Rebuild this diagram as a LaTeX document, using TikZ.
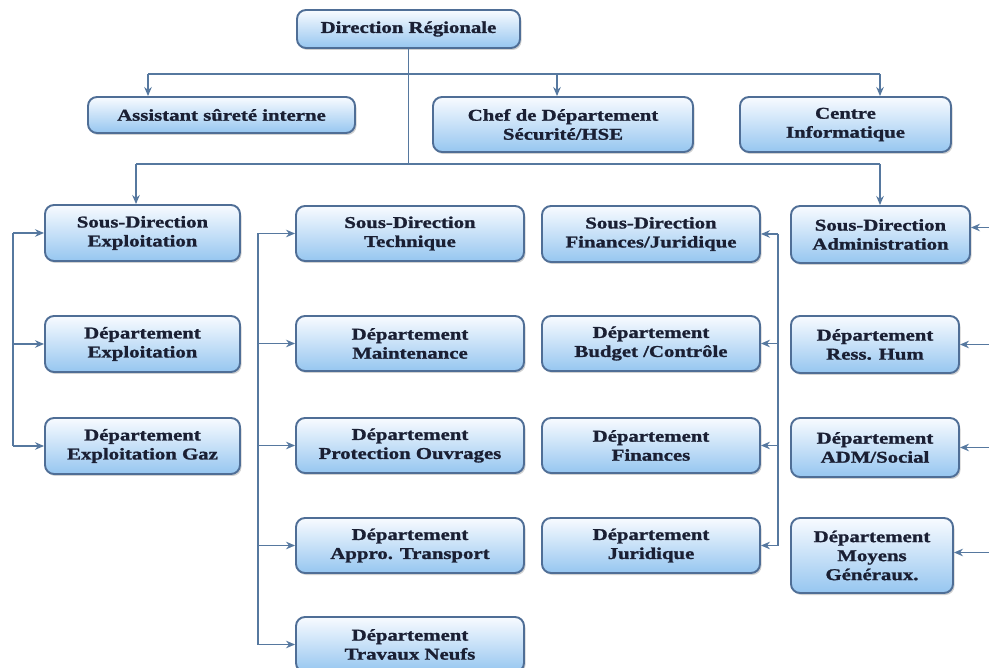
\documentclass[tikz,border=0pt]{standalone}
\usepackage{fontspec}
\setmainfont{Liberation Serif}[FakeStretch=1.26, BoldFeatures={FakeBold=1.3}]
\usetikzlibrary{arrows.meta,shadows}

\definecolor{boxedge}{HTML}{4F6E96}
\definecolor{linkcol}{HTML}{56789F}
\definecolor{boxtop}{HTML}{F8FBFF}
\definecolor{boxbot}{HTML}{96C6F0}
\definecolor{inkcol}{HTML}{1A1F33}

\tikzset{
  unit/.style={draw=boxedge, line width=1.9pt, rounded corners=9pt,
    top color=boxtop, bottom color=boxbot, align=center, inner sep=2pt,
    text=inkcol, font=\fontsize{16.5}{19}\selectfont\bfseries,
    drop shadow={shadow xshift=1.5pt, shadow yshift=-2pt, fill=black!45, opacity=0.4}},
  link/.style={draw=linkcol, line width=1.8pt},
  arr/.style={link, -{Stealth[length=9pt,width=7.5pt]}}
}

\begin{document}
\begin{tikzpicture}[x=1pt,y=-1pt]
\clip (0,0) rectangle (989,668);
\fill[white] (0,0) rectangle (989,668);

% top level
\node[unit, minimum width=223pt, minimum height=38pt] (dr) at (408.5,29) {Direction Régionale};

% staff units
\node[unit, minimum width=267pt, minimum height=36pt] (asi) at (221.5,115) {Assistant sûreté interne};
\node[unit, minimum width=260pt, minimum height=55pt] (hse) at (563,124.5) {Chef de Département\\Sécurité/HSE};
\node[unit, minimum width=211pt, minimum height=55pt] (ci) at (845.5,124.5) {Centre\\Informatique};

% column 1: exploitation
\node[unit, minimum width=195pt, minimum height=56pt] (sde) at (142.5,233) {Sous-Direction\\Exploitation};
\node[unit, minimum width=195pt, minimum height=56pt] (dex) at (142.5,344) {Département\\Exploitation};
\node[unit, minimum width=195pt, minimum height=56pt] (deg) at (142.5,446) {Département\\Exploitation Gaz};

% column 2: technique
\node[unit, minimum width=228pt, minimum height=55pt] (sdt) at (410,233.5) {Sous-Direction\\Technique};
\node[unit, minimum width=228pt, minimum height=55pt] (dma) at (410,343.5) {Département\\Maintenance};
\node[unit, minimum width=228pt, minimum height=55pt] (dpo) at (410,445.5) {Département\\Protection Ouvrages};
\node[unit, minimum width=228pt, minimum height=55pt] (dat) at (410,545.5) {Département\\Appro. Transport};
\node[unit, minimum width=228pt, minimum height=55pt] (dtn) at (410,644.5) {Département\\Travaux Neufs};

% column 3: finances
\node[unit, minimum width=218pt, minimum height=56pt] (sdf) at (651,234) {Sous-Direction\\Finances/Juridique};
\node[unit, minimum width=218pt, minimum height=55pt] (dbc) at (651,343.5) {Département\\Budget /Contrôle};
\node[unit, minimum width=218pt, minimum height=55pt] (dfi) at (651,445.5) {Département\\Finances};
\node[unit, minimum width=218pt, minimum height=55pt] (dju) at (651,545.5) {Département\\Juridique};

% column 4: administration
\node[unit, minimum width=179pt, minimum height=57pt] (sda) at (880.5,234.5) {Sous-Direction\\Administration};
\node[unit, minimum width=168pt, minimum height=57pt] (drh) at (875,344.5) {Département\\Ress. Hum};
\node[unit, minimum width=168pt, minimum height=59pt] (dad) at (875,447.5) {Département\\ADM/Social};
\node[unit, minimum width=162pt, minimum height=75pt] (dmg) at (872,555.5) {Département\\Moyens\\Généraux.};

% trunk and distribution bars
\coordinate (b1a) at (148,74);
\coordinate (b1b) at (557,74);
\coordinate (b1c) at (880,74);
\coordinate (b2a) at (136,164);
\coordinate (b2b) at (880,164);
\draw[link] (dr.south) -- (dr.south |- b2a);
\draw[link] (b1a) -- (b1c);
\draw[link] (b2a) -- (b2b);
\draw[arr] (b1a) -- (b1a |- asi.north);
\draw[arr] (b1b) -- (b1b |- hse.north);
\draw[arr] (b1c) -- (b1c |- ci.north);
\draw[arr] (b2a) -- (b2a |- sde.north);
\draw[arr] (b2b) -- (b2b |- sda.north);

% column 1 spine
\coordinate (s1) at (13,0);
\draw[link] (s1 |- sde.west) -- (s1 |- deg.west);
\foreach \n in {sde,dex,deg} \draw[arr] (s1 |- \n.west) -- (\n.west);

% column 2 spine
\coordinate (s2) at (258,0);
\draw[link] (s2 |- sdt.west) -- (s2 |- dtn.west);
\foreach \n in {sdt,dma,dpo,dat,dtn} \draw[arr] (s2 |- \n.west) -- (\n.west);

% column 3 spine
\coordinate (s3) at (778,0);
\draw[link] (s3 |- sdf.east) -- (s3 |- dju.east);
\foreach \n in {sdf,dbc,dfi,dju} \draw[arr] (s3 |- \n.east) -- (\n.east);

% column 4 feeds from the right margin
\coordinate (s4) at (989,0);
\coordinate (sdain) at ([yshift=7pt]sda.east);
\coordinate (dmgin) at ([yshift=3pt]dmg.east);
\draw[arr] (s4 |- sdain) -- (sdain);
\foreach \n in {drh,dad} \draw[arr] (s4 |- \n.east) -- (\n.east);
\draw[arr] (s4 |- dmgin) -- (dmgin);
\end{tikzpicture}
\end{document}
